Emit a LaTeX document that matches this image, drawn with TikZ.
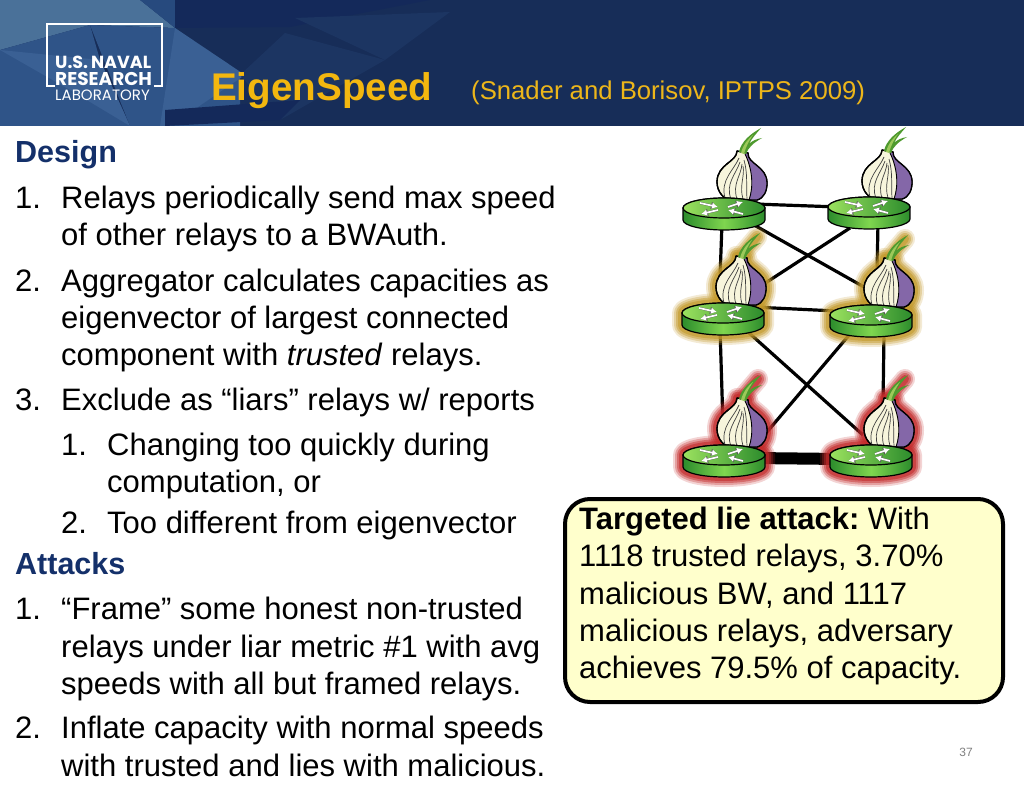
\documentclass[tikz,border=0pt]{standalone}
\usepackage{fontspec}
\setmainfont{Liberation Sans}
\newfontfamily\logofont{Poppins}
\usetikzlibrary{arrows.meta,calc}
\definecolor{navy}{HTML}{172D58}
\definecolor{headingblue}{HTML}{14306A}
\definecolor{titlegold}{HTML}{F3B70F}
\definecolor{citegold}{HTML}{EDB61A}
\definecolor{bubble}{HTML}{FFFFCC}
\definecolor{glowgold}{HTML}{C49A2C}
\definecolor{glowred}{HTML}{C42B2B}
\definecolor{onioncream}{HTML}{F7F5DC}
\definecolor{onionpurple}{HTML}{8467A8}
\definecolor{leafdark}{HTML}{4E9A2E}
\definecolor{leaflight}{HTML}{9CC95A}
\definecolor{rtlight}{HTML}{9BE15F}
\definecolor{rtdark}{HTML}{2C8C2C}
\definecolor{rtside}{HTML}{7FD64F}
\definecolor{faceta}{HTML}{4A7199}
\definecolor{facetb}{HTML}{2F5488}
\definecolor{facetc}{HTML}{274A7E}
\definecolor{facetd}{HTML}{3A6094}
\definecolor{facete}{HTML}{1C3562}
\definecolor{facetf}{HTML}{14295A}
\def\onionoutline{(13,-57) .. controls (13,-46) and (-7,-44) .. (-7,-26) .. controls (-7,-16) and (0,-8) .. (8,-8) -- (33,-8) .. controls (40,-10) and (43,-17) .. (43,-25) .. controls (43,-42) and (23,-44) .. (24,-55) -- cycle}
\def\routerall{(-41,0) -- (-41,12) arc[start angle=180,end angle=0,x radius=41,y radius=10] -- (41,0) arc[start angle=0,end angle=-180,x radius=41,y radius=10] -- cycle}
\def\routertop{(-41,0) arc[start angle=180,end angle=-180,x radius=41,y radius=10]}
\tikzset{
  body/.style={font=\fontsize{31}{36}\selectfont,anchor=base west,inner sep=0pt,text=black},
  head/.style={font=\fontsize{30.5}{36}\selectfont\bfseries,anchor=base west,inner sep=0pt,text=headingblue},
  callout/.style={font=\fontsize{31}{36}\selectfont,anchor=base west,inner sep=0pt,text=black},
  link/.style={line width=3.2pt,black},
  rarrow/.style={-{Latex[length=6pt,width=6.5pt]},white,line width=1.7pt},
  pics/relay/.style={code={
    \draw[fill=onioncream,line width=1.3pt,line join=round] \onionoutline;
    \fill[onionpurple] (21,-54) .. controls (28,-40) and (30,-22) .. (25,-8) -- (33,-8) .. controls (40,-10) and (43,-17) .. (43,-25) .. controls (43,-42) and (23,-44) .. (24,-55) -- cycle;
    \draw[line width=1.3pt,line join=round] \onionoutline;
    \draw[line width=.7pt,black!75] (15,-50) .. controls (10,-38) and (-4,-28) .. (1,-10);
    \draw[line width=.7pt,black!75] (16,-46) .. controls (12,-34) and (1,-24) .. (7,-9);
    \draw[line width=.7pt,black!75] (18,-44) .. controls (17,-32) and (8,-24) .. (13,-9);
    \draw[line width=.7pt,black!75] (19,-42) .. controls (21,-32) and (15,-22) .. (19,-9);
    \draw[line width=.7pt,black!75] (20,-48) .. controls (24,-34) and (22,-22) .. (23,-9);
    \draw[line width=.9pt] (21,-54) .. controls (28,-40) and (30,-22) .. (25,-8);
    \fill[leafdark] (15,-56) .. controls (17,-66) and (26,-74) .. (37,-80) .. controls (32,-74) and (28,-70) .. (25,-64) .. controls (28,-67) and (32,-69) .. (38,-70) .. controls (29,-65) and (24,-60) .. (22,-54) -- cycle;
    \fill[leaflight] (17,-55) .. controls (19,-63) and (23,-68) .. (29,-73) .. controls (25,-67) and (22,-62) .. (20,-54) -- cycle;
    \path[left color=rtdark,right color=rtdark,middle color=rtside] \routerall;
    \draw[line width=1.2pt,line join=round] \routerall;
    \draw[line width=1.2pt,left color=rtlight,right color=rtdark] \routertop;
    \foreach \p/\q in {{-24,-5}/{-6,-1},{4,-1}/{19,-6},{-6,2}/{-23,6},{19,6}/{4,2}}{
      \draw[-{Latex[length=7pt,width=8pt]},black!65,line width=2.3pt] (\p) -- (\q);
      \draw[rarrow] (\p) -- (\q);}
  }},
  pics/glow/.style={code={
    \foreach \w/\o in {20/.2,16/.3,12/.45,8/.6}{
      \draw[#1,line width=\w pt,opacity=\o,line join=round,line cap=round] \onionoutline;
      \draw[#1,line width=\w pt,opacity=\o,line join=round,line cap=round] (17,-56) -- (34,-76);
      \draw[#1,line width=\w pt,opacity=\o,line join=round] \routerall;
    }
  }}
}
\begin{document}
\begin{tikzpicture}[x=1pt,y=-1pt]
\useasboundingbox (0,0) rectangle (1024,791);
\fill[white] (0,0) rectangle (1024,791);
% header
\fill[navy] (0,0) rectangle (1024,126);
\fill[faceta] (0,0) -- (140,0) -- (175,28) -- (90,25) -- (0,50) -- cycle;
\fill[facetb] (0,50) -- (90,25) -- (100,60) -- (130,126) -- (0,126) -- cycle;
\fill[facetd] (0,50) -- (100,60) -- (130,126) -- (70,90) -- cycle;
\fill[facetb] (90,25) -- (175,28) -- (240,75) -- (240,126) -- (130,126) -- cycle;
\fill[facetd] (175,28) -- (245,75) -- (170,126) -- (160,126) -- cycle;
\fill[facetc] (140,0) -- (175,0) -- (175,28) -- cycle;
\fill[facetf] (175,0) -- (175,28) -- (290,27) -- (430,0) -- cycle;
\fill[facete] (240,75) -- (285,33) -- (385,60) -- (280,120) -- cycle;
\fill[facete] (295,18) -- (450,12) -- (385,60) -- cycle;
\fill[facetf] (165,126) -- (280,120) -- (300,100) -- (165,110) -- cycle;
% logo
\draw[white,line width=1.2pt] (54.5,86) -- (47,86) -- (47,24) -- (162,24) -- (162,86) -- (154,86);
\node[inner sep=0pt,anchor=base west,text=white] (logoa) at (55,69) {\logofont\fontsize{17.5}{17}\selectfont\bfseries U.S.\,NAVAL};
\node[inner sep=0pt,anchor=base west,text=white] (logob) at (55,86) {\logofont\fontsize{18.5}{17}\selectfont\bfseries RESEARCH};
\node[inner sep=0pt,anchor=base west,text=white] (logoc) at (55,101) {\logofont\fontsize{15}{14}\selectfont LABORATORY};
% titles
\node[inner sep=0pt,anchor=base west,text=titlegold] (title) at (211,101) {\fontsize{38.6}{40}\selectfont\bfseries EigenSpeed};
\node[inner sep=0pt,anchor=base west,text=citegold] (cite) at (471,100) {\fontsize{25.7}{30}\selectfont (Snader and Borisov, IPTPS 2009)};
% left text
\node[head] (h1) at (15,163) {Design};
\node[body] (a1) at (15,209) {1.};
\node[body] (a2) at (61,209) {Relays periodically send max speed};
\node[body] (a3) at (61,246) {of other relays to a BWAuth.};
\node[body] (b1) at (15,291) {2.};
\node[body] (b2) at (61,291) {Aggregator calculates capacities as};
\node[body] (b3) at (61,328) {eigenvector of largest connected};
\node[body] (b4) at (61,365) {component with \emph{trusted} relays.};
\node[body] (c1) at (15,410) {3.};
\node[body] (c2) at (61,410) {Exclude as “liars” relays w/ reports};
\node[body] (d1) at (61,455) {1.};
\node[body] (d2) at (107,455) {Changing too quickly during};
\node[body] (d3) at (107,492) {computation, or};
\node[body] (e1) at (61,533) {2.};
\node[body] (e2) at (107,533) {Too different from eigenvector};
\node[head] (h2) at (15,574) {Attacks};
\node[body] (f1) at (15,619) {1.};
\node[body] (f2) at (61,619) {“Frame” some honest non-trusted};
\node[body] (f3) at (61,657) {relays under liar metric \#1 with avg};
\node[body] (f4) at (61,694) {speeds with all but framed relays.};
\node[body] (g1) at (15,738) {2.};
\node[body] (g2) at (61,738) {Inflate capacity with normal speeds};
\node[body] (g3) at (61,776) {with trusted and lies with malicious.};
% network
\coordinate (tl) at (724,208);
\coordinate (tr) at (869,207);
\coordinate (ml) at (723,313);
\coordinate (mr) at (871,315);
\coordinate (bl) at (724,455);
\coordinate (br) at (871,455);
\draw[link] ([shift={(30,-4)}]tl) -- ([shift={(-30,0)}]tr);
\draw[link] ([shift={(-2,15)}]tl) -- ([shift={(-3,-35)}]ml);
\draw[link] ([shift={(30,17)}]tl) -- ([shift={(9,-19)}]mr);
\draw[link] ([shift={(-19,21)}]tr) -- ([shift={(27,-20)}]ml);
\draw[link] ([shift={(9,15)}]tr) -- ([shift={(6,-40)}]mr);
\draw[link] ([shift={(30,-6)}]ml) -- ([shift={(-35,-4)}]mr);
\draw[link] ([shift={(-3,15)}]ml) -- ([shift={(-1,-30)}]bl);
\draw[link] ([shift={(25,19)}]ml) -- ([shift={(-8,-20)}]br);
\draw[link] ([shift={(-21,19)}]mr) -- ([shift={(26,-3)}]bl);
\draw[link] ([shift={(13,18)}]mr) -- ([shift={(12,-50)}]br);
\draw[line width=12pt] ([shift={(30,3)}]bl) -- ([shift={(-30,4)}]br);
\pic at (ml) {glow=glowgold};
\pic at (mr) {glow=glowgold};
\pic at (bl) {glow=glowred};
\pic at (br) {glow=glowred};
\pic at (tl) {relay};
\pic at (tr) {relay};
\pic at (ml) {relay};
\pic at (mr) {relay};
\pic at (bl) {relay};
\pic at (br) {relay};
% callout
\draw[line width=4pt,fill=bubble,rounded corners=25pt] (565,499) rectangle (1003,702);
\node[callout] (t1) at (579,529) {\textbf{Targeted lie attack:}\hspace{-3pt} With};
\node[callout] (t2) at (579,566) {1118 trusted relays, 3.70\%};
\node[callout] (t3) at (579,604) {malicious BW, and 1117};
\node[callout] (t4) at (579,641) {malicious relays, adversary};
\node[callout] (t5) at (579,678) {achieves 79.5\% of capacity.};
\node[inner sep=0pt,text=black!50] (pg) at (966,752) {\fontsize{12}{14}\selectfont 37};
\end{tikzpicture}
\end{document}
